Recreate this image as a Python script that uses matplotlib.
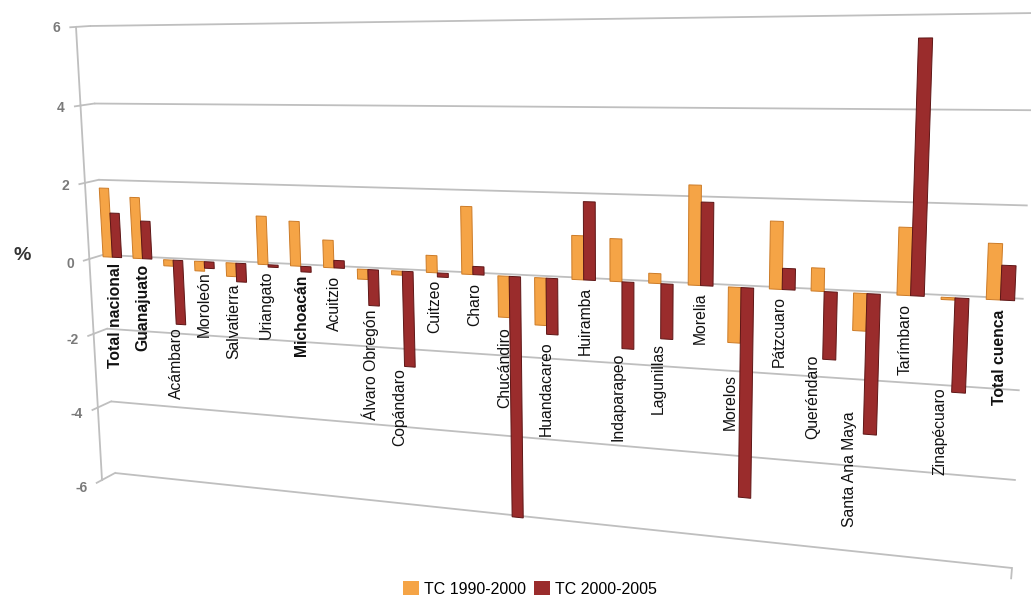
import numpy as np
import matplotlib
matplotlib.use("Agg")
import matplotlib.pyplot as plt
from matplotlib.transforms import Transform
from matplotlib.patches import Patch

# ---------------------------------------------------------------- data
categories = ["Total nacional", "Guanajuato", "Acámbaro", "Moroleón", "Salvatierra",
              "Uriangato", "Michoacán", "Acuitzio", "Álvaro Obregón", "Copándaro",
              "Cuitzeo", "Charo", "Chucándiro", "Huandacareo", "Huiramba",
              "Indaparapeo", "Lagunillas", "Morelia", "Morelos", "Pátzcuaro",
              "Queréndaro", "Santa Ana Maya", "Tarímbaro", "Zinapécuaro", "Total cuenca"]
tc_1990_2000 = [1.82, 1.60, -0.16, -0.25, -0.35, 1.23, 1.13, 0.69, -0.25, -0.10,
                0.42, 1.64, -1.00, -1.14, 1.04, 1.00, 0.23, 2.29, -1.28, 1.53,
                0.52, -0.84, 1.49, -0.05, 1.21]
tc_2000_2005 = [1.17, 0.99, -1.69, -0.17, -0.48, -0.06, -0.14, 0.19, -0.90, -2.38,
                -0.10, 0.20, -5.95, -1.35, 1.84, -1.58, -1.29, 1.91, -4.90, 0.48,
                -1.53, -3.17, 5.52, -2.08, 0.75]
series_names = ["TC 1990-2000", "TC 2000-2005"]
aggregates = {"Total nacional", "Guanajuato", "Michoacán", "Total cuenca"}
y_ticks = [-6, -4, -2, 0, 2, 4, 6]

# where each rotated category label ends (in %) and its sideways shift (category widths)
label_top = [-0.14, -0.13, -1.76, -0.25, -0.53, -0.14, -0.21, -0.19, -1.00, -2.42,
             -0.16, -0.20, -1.23, -1.53, -0.17, -1.67, -1.40, -0.16, -2.00, -0.16,
             -1.44, -2.67, -0.18, -1.98, -0.21]
label_shift = [0.08, 0.0, 0.0, 0.0, -0.10, -0.05, 0.0, 0.0, 0.05, -0.13,
               -0.08, 0.05, -0.15, 0.0, 0.05, -0.09, -0.06, 0.0, -0.25, -0.07,
               -0.24, -0.33, -0.11, -0.26, 0.0]

ORANGE, ORANGE_EDGE = "#F5A446", "#CC7B27"
RED, RED_EDGE = "#9A2C2C", "#5E1616"
GRID = "#bfbfbf"


# ---------------------------------------------------------------- projection
class Projective(Transform):
    """Plane-to-canvas perspective mapping given by a 3x3 matrix."""
    input_dims = 2
    output_dims = 2
    is_separable = False

    def __init__(self, M):
        super().__init__()
        self.M = np.asarray(M, float)

    def transform_non_affine(self, values):
        v = np.asarray(values, float).reshape(-1, 2)
        h = np.column_stack([v, np.ones(len(v))]) @ self.M.T
        return h[:, :2] / h[:, 2:3]


def homography(src, dst):
    A, b = [], []
    for (x, y), (X, Y) in zip(src, dst):
        A.append([x, y, 1, 0, 0, 0, -X * x, -X * y]); b.append(X)
        A.append([0, 0, 0, x, y, 1, -Y * x, -Y * y]); b.append(Y)
    h = np.linalg.solve(np.array(A, float), np.array(b, float))
    return np.append(h, 1.0).reshape(3, 3)


W_PX, H_PX = 1031, 597
plt.rcParams["font.family"] = ["Liberation Sans", "DejaVu Sans"]
fig = plt.figure(figsize=(W_PX / 100, H_PX / 100), dpi=100)
ax = fig.add_axes([0, 0, 1, 1])
ax.set_xlim(0, W_PX)
ax.set_ylim(H_PX, 0)
ax.set_autoscale_on(False)
ax.axis("off")

n = len(categories)
vmin, vmax = y_ticks[0], y_ticks[-1]

# back wall: (category position, value) -> canvas pixels
Hw = homography([(0, vmax), (n, vmax), (n, vmin), (0, vmin)],
                [(90, 26), (1036, 13), (1012, 568), (115, 473)])
# depth direction (towards the viewer) through a vanishing point
vp = np.array([1062.0, -37.0])
front_x = 102.0
a, _, c = Hw @ np.array([0.0, vmin, 1.0])
s = (front_x * c - a) / (front_x - vp[0])
q = s * np.array([vp[0], vp[1], 1.0])


def plane_at_depth(d):
    M = Hw.copy()
    M[:, 2] = Hw[:, 2] + (d - 1.0) * q
    return M


T_wall = Projective(Hw) + ax.transData
T_bars = Projective(plane_at_depth(0.6)) + ax.transData
T_side = Projective(np.column_stack([q, Hw[:, 1], Hw[:, 2] - q])) + ax.transData
T_right = Projective(np.column_stack([q, Hw[:, 1], n * Hw[:, 0] + Hw[:, 2] - q])) + ax.transData

# ---------------------------------------------------------------- walls and axis
for v in y_ticks:
    ax.plot([0, n], [v, v], color=GRID, lw=1.3, transform=T_wall, zorder=1,
            solid_capstyle="butt")
    ax.plot([0, 1], [v, v], color=GRID, lw=1.3, transform=T_side, zorder=1)
    ax.plot([-0.4, 0], [v, v], color=GRID, lw=1.3, transform=T_side, zorder=1)
    ax.text(-1.1, v, f"{v:d}", transform=T_side, ha="right", va="center",
            fontsize=10, fontweight="bold", color="#7a7a7a")
ax.plot([0, 0], [vmin, vmax], color=GRID, lw=1.3, transform=T_side, zorder=1)
ax.plot([1, 0], [vmin, vmin], color=GRID, lw=1.3, transform=T_right, zorder=1)

# ---------------------------------------------------------------- bars
u0, du = 0.0, 1.0
centers = u0 + (np.arange(n) + 0.5) * du
bw = 0.31 * du
ax.bar(centers - bw / 2, tc_1990_2000, width=bw, color=ORANGE, edgecolor=ORANGE_EDGE,
       linewidth=0.7, transform=T_bars, zorder=3)
ax.bar(centers + bw / 2, tc_2000_2005, width=bw, color=RED, edgecolor=RED_EDGE,
       linewidth=0.7, transform=T_bars, zorder=3)

# ---------------------------------------------------------------- category labels
for i, name in enumerate(categories):
    ax.text(centers[i] + label_shift[i] * du, label_top[i], name, transform=T_bars,
            rotation=90, ha="center", va="top", fontsize=11.3,
            fontweight="bold" if name in aggregates else "normal",
            color="#111111", zorder=4)

fig.text(22 / W_PX, 1 - 256 / H_PX, "%", ha="center", va="center",
         fontsize=14, fontweight="bold", color="#333333")

handles = [Patch(facecolor=ORANGE, edgecolor="none"), Patch(facecolor=RED, edgecolor="none")]
fig.legend(handles, series_names, loc="center", ncol=2,
           bbox_to_anchor=(530 / W_PX, 1 - 589 / H_PX), frameon=False, fontsize=11.5,
           handlelength=1.0, handleheight=1.0, handletextpad=0.35,
           columnspacing=0.45, borderpad=0, borderaxespad=0)

fig.savefig("out.png", dpi=100)
